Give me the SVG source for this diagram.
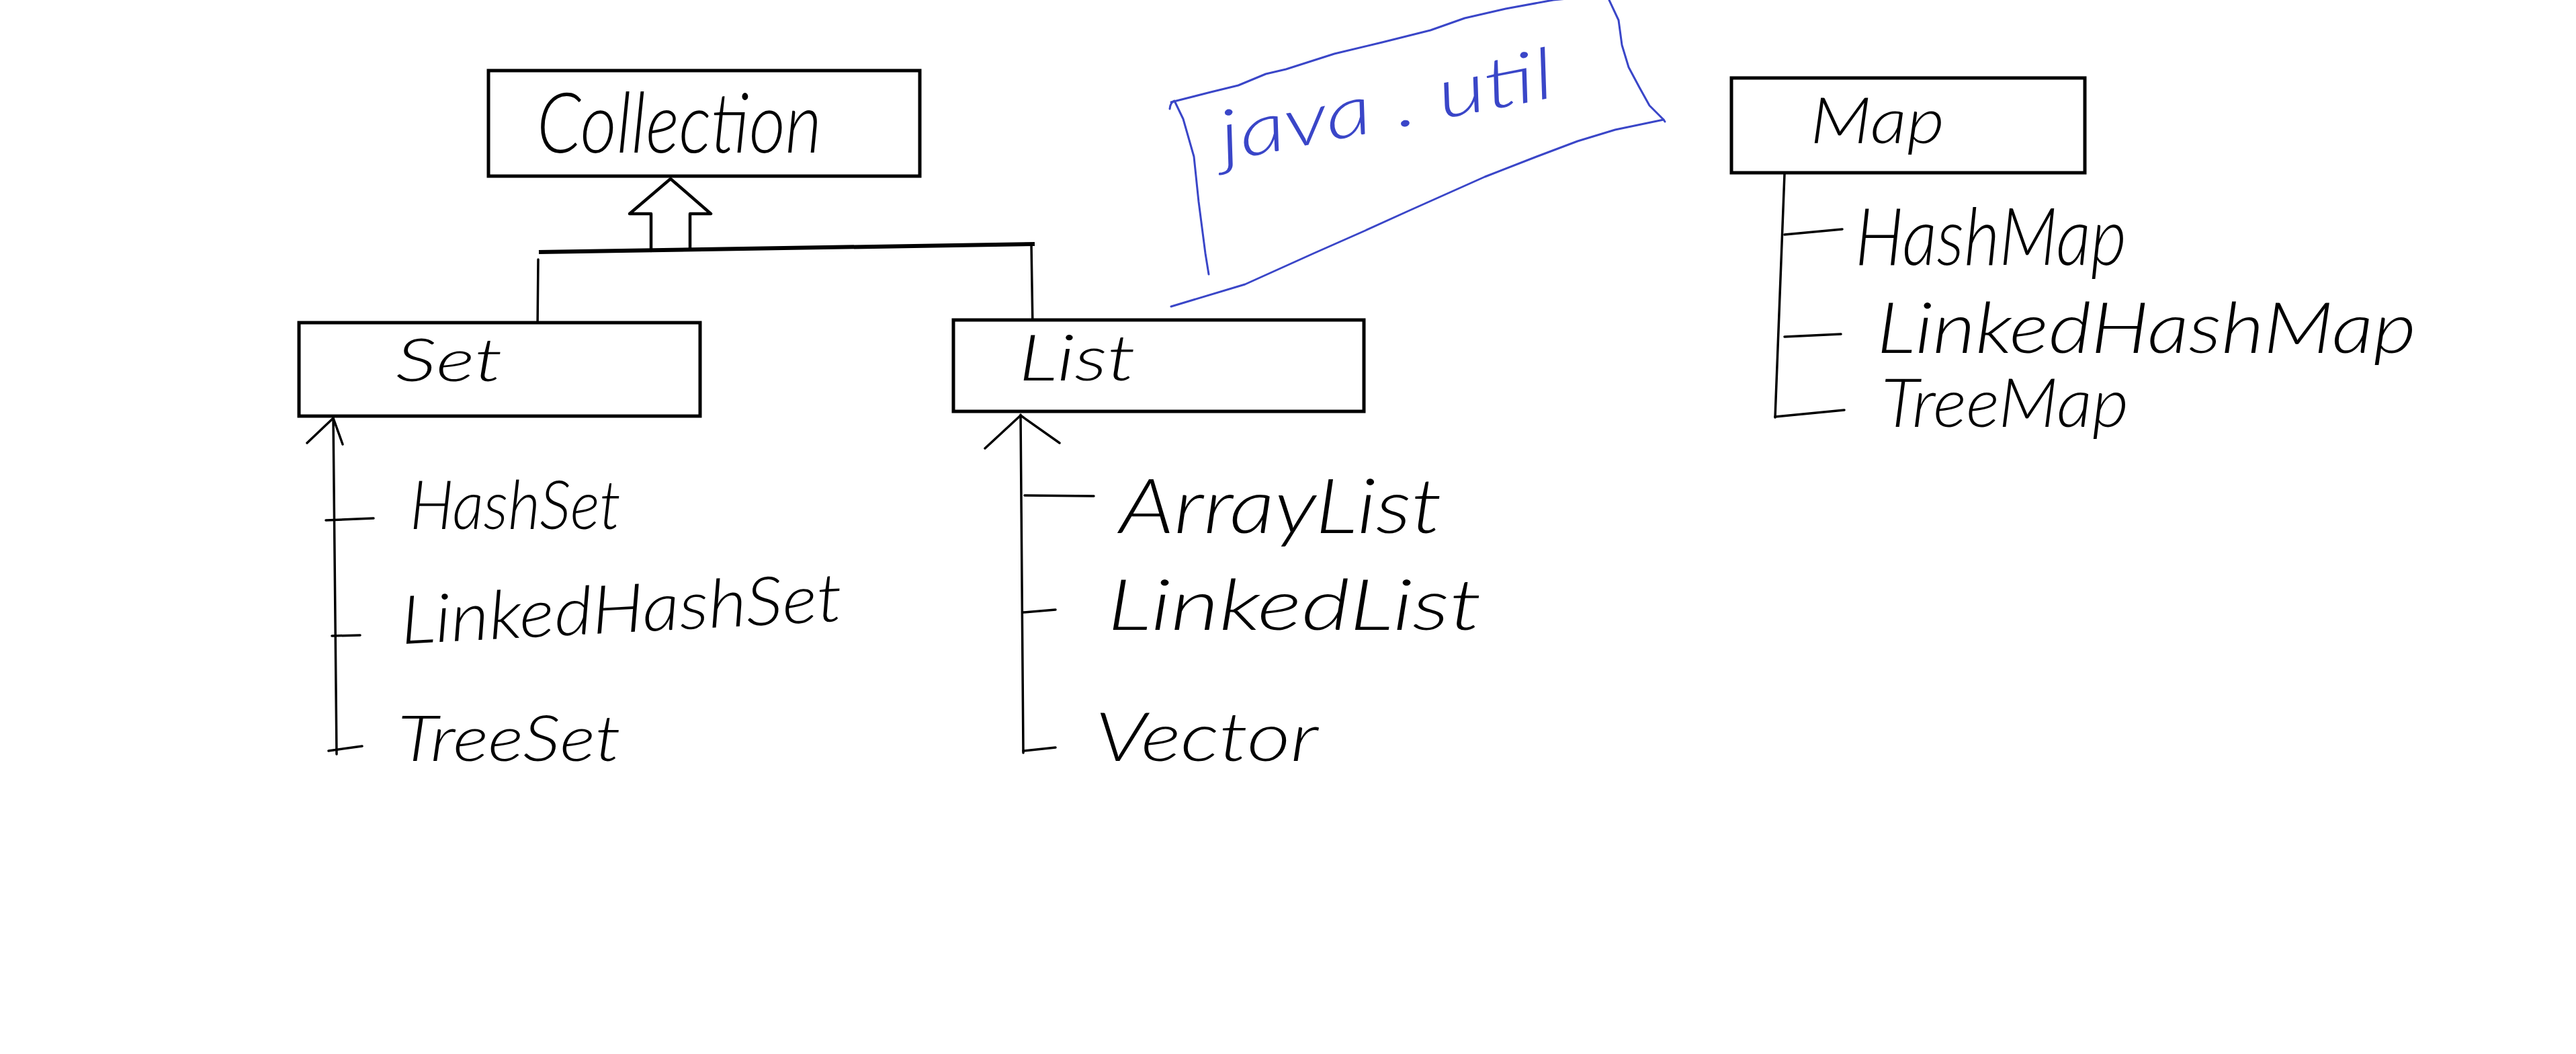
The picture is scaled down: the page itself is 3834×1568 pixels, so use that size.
<svg xmlns="http://www.w3.org/2000/svg" width="3834" height="1568" viewBox="0 0 3834 1568">
<style>
  .box { fill: #ffffff; stroke: #000000; stroke-width: 5; }
  .ln { fill: none; stroke: #000000; stroke-width: 3.5; stroke-linecap: round; stroke-linejoin: round; }
  .thick { fill: none; stroke: #000000; stroke-width: 6; stroke-linecap: butt; }
  .hand { font-family: Lato, "Liberation Serif", serif; font-style: italic; font-weight: 300; fill: #000000; }
  .blue { fill: none; stroke: #3a46c8; stroke-width: 3; stroke-linecap: round; stroke-linejoin: round; }
  .bluetext { font-family: Lato, "Liberation Serif", serif; font-style: italic; font-weight: 300; fill: #3a46c8; }
</style>
<rect width="3834" height="1568" fill="#ffffff"/>

<g id="connectors">
  <path class="thick" d="M802,375 L1540,363"/>
  <path class="ln" d="M969,373 V318 H937 L998,266 L1058,318 H1027 V371" fill="#ffffff" style="stroke-width:4.5"/>
  <path class="ln" d="M801,386 L800,488"/>
  <path class="ln" d="M1535,364 L1537,488"/>
  <path class="ln" d="M496,622 L501,1122"/>
  <path class="ln" d="M457,659 L496,622 L510,661"/>
  <path class="ln" d="M485,774 L556,771"/>
  <path class="ln" d="M494,946 L536,945"/>
  <path class="ln" d="M489,1117 L539,1110"/>
  <path class="ln" d="M1519,617 L1523,1120"/>
  <path class="ln" d="M1466,667 L1519,618 L1577,659"/>
  <path class="ln" d="M1525,737 L1628,738"/>
  <path class="ln" d="M1523,911 L1571,907"/>
  <path class="ln" d="M1523,1117 L1571,1112"/>
  <path class="ln" d="M2656,259 L2642,621"/>
  <path class="ln" d="M2656,349 L2742,341"/>
  <path class="ln" d="M2656,501 L2740,497"/>
  <path class="ln" d="M2642,620 L2745,610"/>
</g>

<g id="node-collection">
  <rect class="box" x="727" y="105" width="642" height="157"/>
  <text class="hand" x="799" y="227" font-size="125" textLength="424" lengthAdjust="spacingAndGlyphs">Collection</text>
</g>

<g id="node-set">
  <rect class="box" x="445" y="480" width="597" height="139"/>
  <text class="hand" x="589" y="567" font-size="88" textLength="159" lengthAdjust="spacingAndGlyphs">Set</text>
</g>

<g id="node-list">
  <rect class="box" x="1419" y="476" width="611" height="136"/>
  <text class="hand" x="1516" y="566" font-size="95" textLength="174" lengthAdjust="spacingAndGlyphs">List</text>
</g>

<g id="node-map">
  <rect class="box" x="2577" y="116" width="526" height="141"/>
  <text class="hand" x="2694" y="213" font-size="95" textLength="200" lengthAdjust="spacingAndGlyphs">Map</text>
</g>

<g id="node-hashset">
  <text class="hand" x="610" y="787" font-size="100" textLength="314" lengthAdjust="spacingAndGlyphs">HashSet</text>
</g>
<g id="node-linkedhashset">
  <text class="hand" x="598" y="958" font-size="100" textLength="658" lengthAdjust="spacingAndGlyphs" transform="rotate(-3 598 958)">LinkedHashSet</text>
</g>
<g id="node-treeset">
  <text class="hand" x="592" y="1132" font-size="95" textLength="332" lengthAdjust="spacingAndGlyphs">TreeSet</text>
</g>

<g id="node-arraylist">
  <text class="hand" x="1666" y="793" font-size="112" textLength="480" lengthAdjust="spacingAndGlyphs">ArrayList</text>
</g>
<g id="node-linkedlist">
  <text class="hand" x="1648" y="937" font-size="105" textLength="557" lengthAdjust="spacingAndGlyphs">LinkedList</text>
</g>
<g id="node-vector">
  <text class="hand" x="1630" y="1132" font-size="100" textLength="332" lengthAdjust="spacingAndGlyphs">Vector</text>
</g>

<g id="node-hashmap">
  <text class="hand" x="2761" y="394" font-size="118" textLength="404" lengthAdjust="spacingAndGlyphs">HashMap</text>
</g>
<g id="node-linkedhashmap">
  <text class="hand" x="2793" y="525" font-size="105" textLength="803" lengthAdjust="spacingAndGlyphs">LinkedHashMap</text>
</g>
<g id="node-treemap">
  <text class="hand" x="2800" y="635" font-size="100" textLength="368" lengthAdjust="spacingAndGlyphs">TreeMap</text>
</g>

<g id="java-util">
  <path class="blue" d="M1741,162 Q1742,152 1748,150 L1761,177 L1777,233 L1784,300 L1794,377 L1799,408"/>
  <path class="blue" d="M1743,152 L1802,137 L1843,127 L1884,110 L1914,103 L1986,80 L2057,63 L2129,45 L2180,27 L2241,13 L2312,0 L2396,-8"/>
  <path class="blue" d="M2394,-2 L2409,30 L2414,67 L2424,100 L2440,130 L2455,157 L2476,178 L2478,181"/>
  <path class="blue" d="M2476,178 L2404,193 L2348,210 L2287,233 L2210,263 L2098,313 L2032,343 L1955,377 L1853,423 L1743,456"/>
  <text class="bluetext" x="1822" y="240" font-size="105" textLength="505" lengthAdjust="spacingAndGlyphs" transform="rotate(-11 1822 240)">java . util</text>
</g>
</svg>
